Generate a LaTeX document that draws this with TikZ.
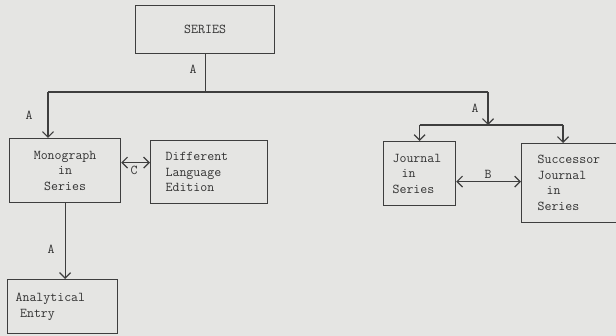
\documentclass[tikz,border=0pt]{standalone}
\usetikzlibrary{arrows.meta}

\definecolor{paper}{RGB}{229,229,227}
\definecolor{ink}{RGB}{62,62,62}

\tikzset{
  box/.style={draw=ink, line width=1.2pt, anchor=north west, inner ysep=0pt,
    text=ink!80!black, font=\ttfamily\fontsize{13.5}{15.5}\selectfont, align=left},
  lbl/.style={text=ink!80!black, font=\ttfamily\fontsize{13.5}{15.5}\selectfont, inner sep=0pt},
  link/.style={draw=ink, line width=1.2pt},
  >={Straight Barb[length=5.5pt,width=11pt,line width=1.2pt]}
}

\begin{document}
\begin{tikzpicture}[x=1pt,y=-1pt]
  % Fondo
  \fill[paper] (0,0) rectangle (616,336);
  \useasboundingbox (0,0) rectangle (616,336);

  % Cajas
  \node[box, minimum width=139pt, minimum height=48pt, align=center] (series) at (135,5) {SERIES};
  \node[box, minimum width=111pt, minimum height=64pt, align=center] (mono) at (9,138)
    {Monograph\\in\\Series};
  \node[box, inner xsep=15pt, text width=87pt, minimum height=63pt] (lang) at (150,140)
    {Different\\Language\\Edition};
  \node[box, inner xsep=9pt, text width=54pt, minimum height=64pt] (jour) at (383,141)
    {Journal\\\ \ in\\Series};
  \node[box, inner xsep=16pt, text width=78pt, minimum height=79pt] (succ) at (521,143)
    {Successor\\Journal\\\ \ in\\Series};
  \node[box, inner xsep=8pt, text width=94pt, minimum height=54pt] (anal) at (7,279)
    {Analytical\\\ Entry};

  % Ramas desde SERIES
  \coordinate (split) at (series.south |- 0,92);
  \coordinate (left) at (48,92);
  \coordinate (right) at (488,92);
  \coordinate (fork) at (488,125);
  \coordinate (forkl) at (jour.north |- fork);
  \coordinate (forkr) at (563,125);

  \draw[link] (series.south) -- (split);
  \draw[link] (left) -- (right);
  \draw[link, ->] (left) -- (left |- mono.north);
  \draw[link, ->] (right) -- (fork);
  \draw[link] (forkl) -- (forkr);
  \draw[link, ->] (forkl) -- (jour.north);
  \draw[link, ->] (forkr) -- (forkr |- succ.north);

  % Flechas dobles
  \draw[link, <->] ([yshift=8pt]mono.east) -- ([yshift=8pt]mono.east -| lang.west);
  \draw[link, <->] ([yshift=-8pt]jour.east) -- ([yshift=-8pt]jour.east -| succ.west);
  \draw[link, ->] (mono.south) -- (mono.south |- anal.north);

  % Etiquetas
  \node[lbl] (la1) at (193,69) {A};
  \node[lbl] (la2) at (29,115) {A};
  \node[lbl] (la3) at (475,108) {A};
  \node[lbl] (la4) at (51,249) {A};
  \node[lbl] (lc) at (134,170) {C};
  \node[lbl] (lb) at (488,174) {B};
\end{tikzpicture}
\end{document}
